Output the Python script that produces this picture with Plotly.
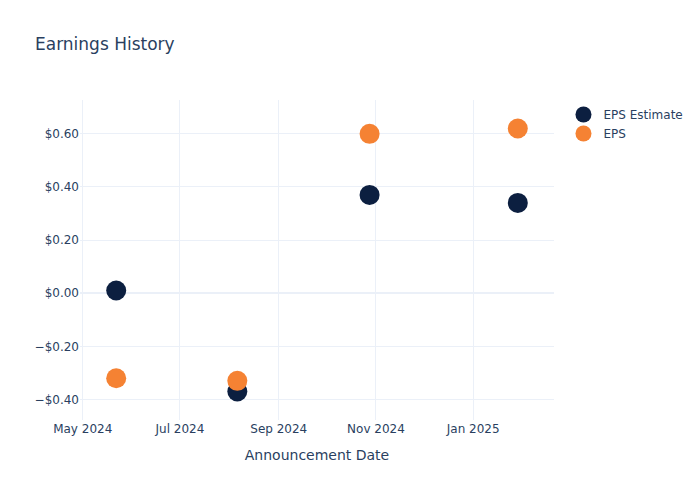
import plotly.graph_objects as go

dates = ["2024-05-22", "2024-08-06", "2024-10-28", "2025-01-29"]
eps_estimate = [0.01, -0.37, 0.37, 0.34]
eps_actual = [-0.32, -0.33, 0.60, 0.62]

fig = go.Figure()
fig.add_trace(go.Scatter(
    x=dates, y=eps_estimate, mode="markers", name="EPS Estimate",
    marker=dict(color="#0c1f40", size=20),
))
fig.add_trace(go.Scatter(
    x=dates, y=eps_actual, mode="markers", name="EPS",
    marker=dict(color="#f58233", size=20),
))
fig.update_layout(
    template="plotly_white",
    width=700, height=500,
    font=dict(family="DejaVu Sans"),
    title=dict(text="Earnings History"),
    xaxis=dict(title=dict(text="Announcement Date"), tickformat="%b %Y", dtick="M2"),
    yaxis=dict(tickformat="$.2f"),
)
fig.write_html("out.html", config={"displayModeBar": False},
               post_script="document.body.style.margin='0';")
